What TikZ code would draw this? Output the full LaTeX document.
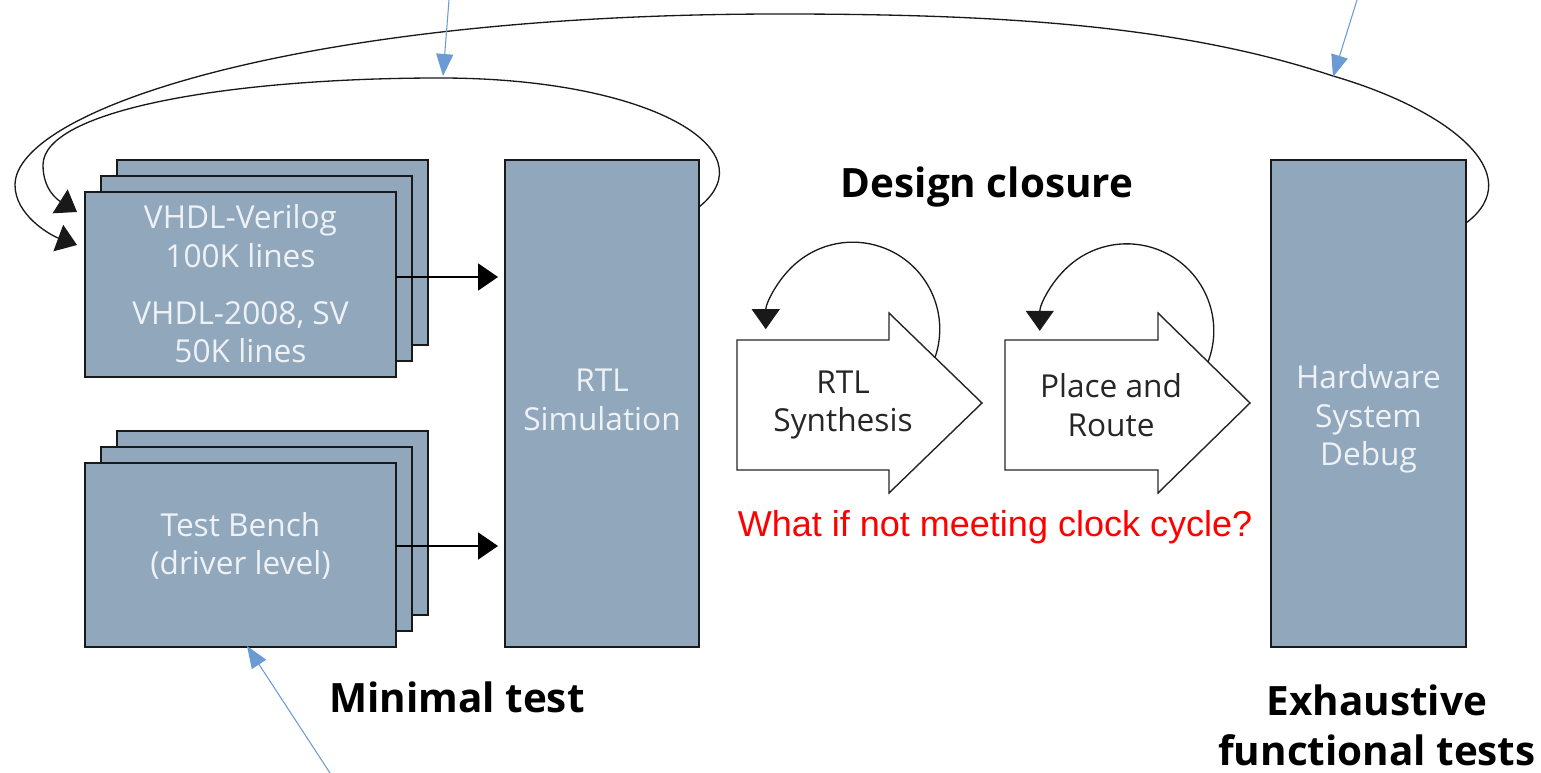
\documentclass[tikz,border=0pt]{standalone}
\usepackage{fontspec}
\setmainfont{Open Sans}
\newfontfamily\arialfont{Liberation Sans}
\usetikzlibrary{arrows.meta,calc}
\definecolor{boxfill}{HTML}{91A7BC}
\definecolor{boxtext}{HTML}{EEF2F6}
\definecolor{noteblue}{HTML}{6A9BD3}
\definecolor{alertred}{HTML}{FF0000}

\begin{document}
\begin{tikzpicture}[x=0.02cm,y=0.02cm,
  box/.style={draw=black!90, line width=0.8pt, fill=boxfill, inner sep=0pt, outer sep=0pt},
  boxlabel/.style={text=boxtext, align=center, font=\fontsize{18pt}{22pt}\selectfont},
  steplabel/.style={text=black!85, align=center, font=\fontsize{18pt}{22pt}\selectfont},
  stageshape/.style={draw=black!85, line width=0.8pt, fill=white, line join=miter},
  heading/.style={text=black, align=center, font=\fontsize{23pt}{28.5pt}\selectfont\bfseries},
  feed/.style={draw=black, line width=1.1pt, -{Triangle[length=0.4cm,width=0.54cm]}},
  loop/.style={draw=black!90, line width=0.75pt, -{Triangle[length=0.4cm,width=0.56cm]}},
  note/.style={draw=noteblue, line width=0.6pt, -{Triangle[length=0.44cm,width=0.34cm]}}]

\useasboundingbox (0,0) rectangle (1541,-773);

% source code stack
\node[box, minimum width=6.22cm, minimum height=3.70cm] (vb) at (272.5,-252.5) {};
\node[box, minimum width=6.22cm, minimum height=3.70cm] (vm) at (256.5,-268.5) {};
\node[box, minimum width=6.22cm, minimum height=3.70cm] (vf) at (240.5,-284.5) {};
\node[boxlabel] (vtext) at (240.5,-284) {VHDL-Verilog\\100K lines\\[0.36cm]VHDL-2008, SV\\50K lines};

% test bench stack
\node[box, minimum width=6.22cm, minimum height=3.68cm] (tb) at (272.5,-523) {};
\node[box, minimum width=6.22cm, minimum height=3.68cm] (tm) at (256.5,-539) {};
\node[box, minimum width=6.22cm, minimum height=3.68cm] (tf) at (240.5,-555) {};
\node[boxlabel] (ttext) at (240.5,-546) {Test Bench\\(driver level)};

% simulation and hardware columns
\node[box, minimum width=3.88cm, minimum height=9.74cm] (sim) at (602,-403.5) {};
\node[boxlabel] (simtext) at (602,-400) {RTL\\Simulation};
\node[box, minimum width=3.90cm, minimum height=9.74cm] (hw) at (1368.5,-403.5) {};
\node[boxlabel] (hwtext) at (1368.5,-419) {Hardware\\System\\Debug};

% design closure stages
\draw[stageshape] (737,-340) -- (889,-340) -- (889,-313) -- (982,-403) -- (889,-493) -- (889,-470) -- (737,-470) -- cycle;
\node[steplabel] (syn) at (843,-405) {RTL\\Synthesis};
\draw[stageshape] (1005,-340) -- (1158,-340) -- (1158,-313) -- (1250,-403) -- (1158,-493) -- (1158,-470) -- (1005,-470) -- cycle;
\node[steplabel] (pnr) at (1111,-405) {Place and\\Route};

% iteration loops on the stages
\coordinate (synloop) at (935,-357.5);
\coordinate (pnrloop) at (1208,-362);
\draw[loop] (synloop) arc[start angle=-19, end angle=180, radius=87];
\draw[loop] (pnrloop) arc[start angle=-21, end angle=180, radius=87];

% inputs to simulation
\coordinate (vout) at ([yshift=0.15cm]vf.east);
\coordinate (tout) at ([yshift=0.18cm]tf.east);
\draw[feed, shorten >=0.14cm] (vout) -- (vout -| sim.west);
\draw[feed, shorten >=0.14cm] (tout) -- (tout -| sim.west);

% feedback loops back to the source code
\coordinate (simback) at ([yshift=-0.94cm]sim.north east);
\coordinate (hwback) at ([yshift=-1.26cm]hw.north east);
\coordinate (vin1) at ([shift={(-0.16cm,1.45cm)}]vf.west);
\coordinate (vin2) at ([shift={(-0.16cm,0.79cm)}]vf.west);
\draw[loop] (simback) .. controls (770,-150) and (650,-78) .. (440,-78)
  .. controls (230,-78) and (43,-110) .. (43,-165)
  .. controls (43,-190) and (58,-200) .. (vin1);
\draw[loop] (hwback) .. controls (1530,-175) and (1450,-110) .. (1333,-76)
  .. controls (1180,-25) and (1000,-14) .. (780,-14)
  .. controls (300,-14) and (15,-110) .. (15,-185)
  .. controls (15,-215) and (50,-235) .. (vin2);

% headings
\node[heading] (closure) at (987,-187) {Design closure};
\node[heading] (minimal) at (457,-697) {Minimal test};
\node[heading] (exhaust) at (1377,-725) {Exhaustive\\functional tests};
\node[text=alertred, font=\arialfont\fontsize{20.5pt}{24pt}\selectfont] (question) at (995,-527) {What if not meeting clock cycle?};

% pointer arrows
\coordinate (p1s) at (449,0);
\coordinate (p1e) at (443,-76);
\coordinate (p2s) at (1357,0);
\coordinate (p2e) at (1333,-77);
\coordinate (p3s) at (330,-773);
\coordinate (p3e) at (247,-646);
\draw[note] (p1s) -- (p1e);
\draw[note] (p2s) -- (p2e);
\draw[note] (p3s) -- (p3e);
\end{tikzpicture}
\end{document}
